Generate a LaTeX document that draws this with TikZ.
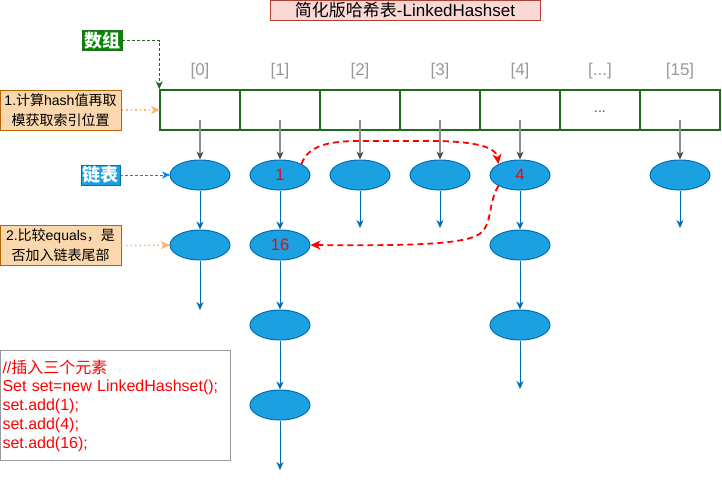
\documentclass[tikz,border=0pt]{standalone}
\usepackage{fontspec}
\setmainfont{Liberation Sans}
\newfontfamily\cjk{Noto Sans CJK SC}
\usetikzlibrary{arrows.meta,shapes.geometric}
\definecolor{arrgreen}{HTML}{1E6B1E}
\definecolor{szgreen}{HTML}{008A00}
\definecolor{elemfill}{HTML}{1BA1E2}
\definecolor{elemdraw}{HTML}{006EAF}
\definecolor{notefill}{HTML}{FAD7AC}
\definecolor{notedraw}{HTML}{B46504}
\definecolor{titlefill}{HTML}{FAD9D5}
\definecolor{titledraw}{HTML}{AE4132}
\definecolor{idxgray}{HTML}{999999}
\definecolor{dotorange}{HTML}{FFB570}
\definecolor{linkblue}{HTML}{007FFF}
\definecolor{codered}{HTML}{FF0000}
\definecolor{linegray}{HTML}{8C8C8C}
\definecolor{tipgray}{HTML}{4D4D4D}
\begin{document}
\begin{tikzpicture}[x=1pt,y=-1pt,
  cell/.style={draw=arrgreen, line width=1.5pt, minimum width=80pt, minimum height=40pt, inner sep=0pt},
  elem/.style={ellipse, draw=elemdraw, fill=elemfill, line width=1pt, minimum width=60pt, minimum height=30pt, inner sep=0pt, text=codered, font=\fontsize{16.5}{18}\selectfont},
  idx/.style={text=idxgray, font=\fontsize{17}{18}\selectfont},
  note/.style={draw=notedraw, fill=notefill, line width=1pt, minimum width=121pt, minimum height=40pt, align=center, inner sep=0pt, font=\fontsize{14}{20}\selectfont},
  link/.style={draw=elemdraw, line width=1pt, -{Stealth[length=8pt,width=7pt,inset=2.5pt]}},
  grayarrow/.style={draw=linegray, line width=1.2pt, -{Stealth[length=8pt,width=7pt,inset=2.5pt,color=tipgray]}},
  dotarrow/.style={draw=dotorange, line width=1.5pt, dash pattern=on 1.5pt off 3pt, -{Stealth[length=9pt,width=8pt,inset=2.5pt,fill=dotorange]}},
  redarrow/.style={draw=codered, line width=1.8pt, dash pattern=on 6pt off 4pt, -{Stealth[length=10pt,width=9pt,inset=3pt]}},
]
\useasboundingbox (0,0) rectangle (722,479);

% title
\node[draw=titledraw, fill=titlefill, line width=1pt, minimum width=270pt, minimum height=20pt, inner sep=0pt, font=\fontsize{17}{18}\selectfont] (title) at (405,10) {{\cjk 简化版哈希表}-LinkedHashset};

% array
\foreach \i/\x in {0/200,1/280,2/360,3/440,4/520,5/600,6/680}{
  \node[cell] (c\i) at (\x,110) {};
}
\node[text=arrgreen, font=\fontsize{14}{16}\selectfont] (dots) at (600,112) {...};
\node[idx] (i0) at (200,71) {[0]};
\node[idx] (i1) at (280,71) {[1]};
\node[idx] (i2) at (360,71) {[2]};
\node[idx] (i3) at (440,71) {[3]};
\node[idx] (i4) at (520,71) {[4]};
\node[idx] (i5) at (600,71) {[...]};
\node[idx] (i6) at (680,71) {[15]};

% labels
\node[fill=szgreen, draw=arrgreen, text=white, minimum width=40pt, minimum height=20pt, inner sep=0pt, font=\cjk\bfseries\fontsize{18}{20}\selectfont] (sz) at (102,40.5) {数组};
\node[fill=elemfill, draw=elemdraw, text=white, minimum width=39pt, minimum height=20pt, inner sep=0pt, font=\cjk\bfseries\fontsize{18}{20}\selectfont] (ll) at (100.5,175) {链表};
\node[note] (n1) at (60.5,110) {1.{\cjk 计算}hash{\cjk 值再取}\\{\cjk 模获取索引位置}};
\node[note] (n2) at (60.5,245.5) {2.{\cjk 比较}equals{\cjk ，是}\\{\cjk 否加入链表尾部}};

\draw[draw=arrgreen, line width=1pt, dash pattern=on 3pt off 2pt, -{Stealth[length=8pt,width=7pt,inset=2.5pt]}] (sz.east) -| (c0.north west);
\draw[draw=linkblue, line width=1pt, dash pattern=on 3pt off 2pt, -{Stealth[length=8pt,width=7pt,inset=2.5pt]}] (ll.east) -- (170,175);
\coordinate (a1) at (160,110);
\coordinate (a2) at (170,245);
\draw[dotarrow] (n1.east) -- (a1);
\draw[dotarrow] (n2.east) -- (a2);

% elements
\node[elem] (e0a) at (200,175) {};
\node[elem] (e0b) at (200,245) {};
\node[elem] (e1a) at (280,175) {1};
\node[elem] (e1b) at (280,245) {16};
\node[elem] (e1c) at (280,325) {};
\node[elem] (e1d) at (280,405) {};
\node[elem] (e2a) at (360,175) {};
\node[elem] (e3a) at (440,175) {};
\node[elem] (e4a) at (520,175) {4};
\node[elem] (e4b) at (520,245) {};
\node[elem] (e4c) at (520,325) {};
\node[elem] (e6a) at (680,175) {};

% gray arrows from array cells
\foreach \i/\x in {0/200,1/280,2/360,3/440,4/520,6/680}{
  \coordinate (g\i) at (\x,120);
}
\draw[grayarrow] (g0) -- (e0a);
\draw[grayarrow] (g1) -- (e1a);
\draw[grayarrow] (g2) -- (e2a);
\draw[grayarrow] (g3) -- (e3a);
\draw[grayarrow] (g4) -- (e4a);
\draw[grayarrow] (g6) -- (e6a);

% chain links
\coordinate (t0) at (200,310);
\coordinate (t1) at (280,470);
\coordinate (t2) at (360,228);
\coordinate (t3) at (440,228);
\coordinate (t4) at (520,389);
\coordinate (t6) at (680,228);
\draw[link] (e0a) -- (e0b);
\draw[link] (e0b) -- (t0);
\draw[link] (e1a) -- (e1b);
\draw[link] (e1b) -- (e1c);
\draw[link] (e1c) -- (e1d);
\draw[link] (e1d) -- (t1);
\draw[link] (e2a) -- (t2);
\draw[link] (e3a) -- (t3);
\draw[link] (e4a) -- (e4b);
\draw[link] (e4b) -- (e4c);
\draw[link] (e4c) -- (t4);
\draw[link] (e6a) -- (t6);

% red dashed insertion order
\draw[redarrow] (e1a.north east) .. controls (308,145) and (330,141) .. (360,141) -- (440,141) .. controls (472,142) and (496,146) .. (e4a.north west);
\draw[redarrow] (e4a.south west) .. controls (489,200) and (492,222) .. (482,232) .. controls (470,244) and (420,246) .. (e1b.east);

% code box
\node[draw=idxgray, line width=1pt, minimum width=230pt, minimum height=110pt, text width=226pt, align=left, inner xsep=2pt, inner ysep=0pt, text=codered, font=\fontsize{16}{18.75}\selectfont] (code) at (115.5,405.5) {//{\cjk 插入三个元素}\\Set set=new LinkedHashset();\\set.add(1);\\set.add(4);\\set.add(16);};
\end{tikzpicture}
\end{document}
